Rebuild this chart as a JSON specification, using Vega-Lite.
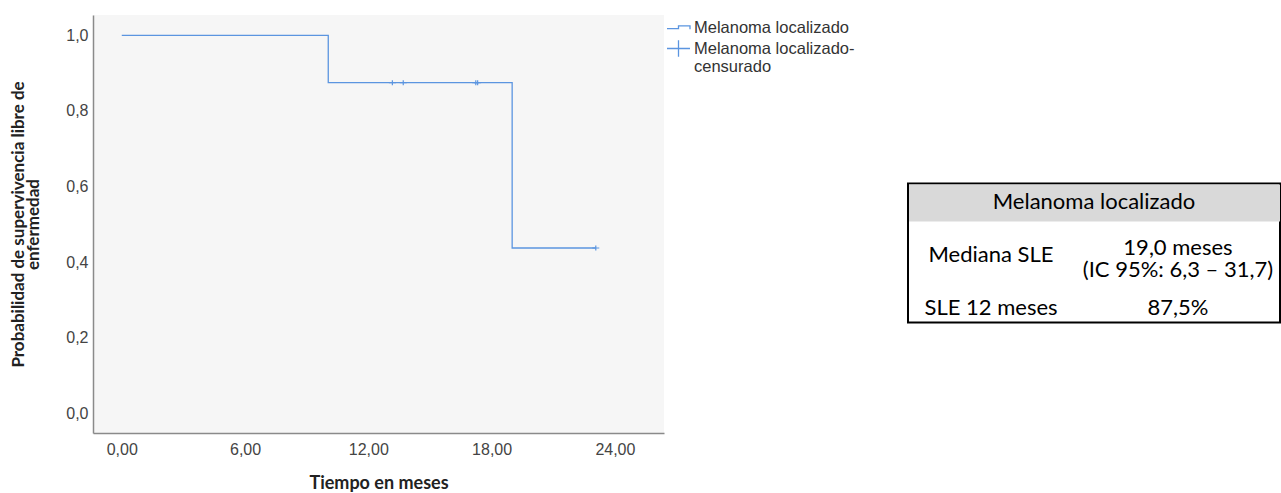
{
  "$schema": "https://vega.github.io/schema/vega-lite/v6.json",
  "background": "white",
  "padding": {"left": 9, "top": 15, "right": 0, "bottom": 0},
  "config": {"view": {"stroke": null}, "font": "Liberation Sans"},
  "datasets": {
    "curva": [
      {"tiempo": 0, "supervivencia": 1.0},
      {"tiempo": 10.05, "supervivencia": 0.875},
      {"tiempo": 19.0, "supervivencia": 0.4375},
      {"tiempo": 23.07, "supervivencia": 0.4375}
    ],
    "censuras": [
      {"tiempo": 13.17, "supervivencia": 0.875, "serie": "Melanoma localizado-censurado"},
      {"tiempo": 13.7, "supervivencia": 0.875, "serie": "Melanoma localizado-censurado"},
      {"tiempo": 17.23, "supervivencia": 0.875, "serie": "Melanoma localizado-censurado"},
      {"tiempo": 17.32, "supervivencia": 0.875, "serie": "Melanoma localizado-censurado"},
      {"tiempo": 23.07, "supervivencia": 0.4375, "serie": "Melanoma localizado-censurado"}
    ],
    "tabla": [
      {"fila": "encabezado", "columna": "titulo", "texto": "Melanoma localizado"},
      {"fila": "mediana", "columna": "etiqueta", "texto": "Mediana SLE"},
      {"fila": "mediana", "columna": "valor", "texto": "19,0 meses\n(IC 95%: 6,3 – 31,7)"},
      {"fila": "sle12", "columna": "etiqueta", "texto": "SLE 12 meses"},
      {"fila": "sle12", "columna": "valor", "texto": "87,5%"}
    ]
  },
  "hconcat": [
    {
      "width": 571,
      "height": 418,
      "view": {"fill": "#f6f6f6", "stroke": null},
      "layer": [
        {
          "data": {"name": "curva"},
          "mark": {"type": "line", "interpolate": "step-after", "color": "#5b95e0", "strokeWidth": 1.3},
          "encoding": {
            "x": {
              "field": "tiempo",
              "type": "quantitative",
              "scale": {"domain": [-1.4, 26.39], "nice": false, "zero": false},
              "axis": {
                "values": [0, 6, 12, 18, 24],
                "labelExpr": "replace(format(datum.value, '.2f'), '.', ',')",
                "ticks": false,
                "grid": false,
                "domainColor": "#8a8a8a",
                "domainWidth": 1.5,
                "labelFont": "Liberation Sans",
                "labelFontSize": 16,
                "labelColor": "#444",
                "labelPadding": 8,
                "titleFont": "Lato",
                "titleFontWeight": "bold",
                "titleFontSize": 18,
                "titleColor": "#222",
                "titlePadding": 17
              },
              "title": "Tiempo en meses"
            },
            "y": {
              "field": "supervivencia",
              "type": "quantitative",
              "scale": {"domain": [-0.052, 1.054], "nice": false, "zero": false},
              "axis": {
                "values": [0, 0.2, 0.4, 0.6, 0.8, 1.0],
                "labelExpr": "replace(format(datum.value, '.1f'), '.', ',')",
                "ticks": false,
                "grid": false,
                "domainColor": "#8a8a8a",
                "domainWidth": 1.5,
                "labelFont": "Liberation Sans",
                "labelFontSize": 16,
                "labelColor": "#444",
                "labelPadding": 5,
                "titleFont": "Lato",
                "titleFontWeight": "bold",
                "titleFontSize": 17,
                "titleLineHeight": 15,
                "titleColor": "#222",
                "titlePadding": 23
              },
              "title": ["Probabilidad de supervivencia libre de", "enfermedad"]
            }
          }
        },
        {
          "data": {"name": "censuras"},
          "mark": {"type": "point", "filled": false, "color": "#5b95e0", "strokeWidth": 1.2, "size": 49, "opacity": 1},
          "encoding": {
            "x": {"field": "tiempo", "type": "quantitative"},
            "y": {"field": "supervivencia", "type": "quantitative"},
            "shape": {
              "field": "serie",
              "type": "nominal",
              "scale": {
                "domain": ["Melanoma localizado", "Melanoma localizado-censurado"],
                "range": ["M-1,0.1H0V-0.15H1V0.15", "M-1,0H1M0,-0.72V0.72"]
              },
              "legend": {
                "title": null,
                "orient": "right",
                "offset": 2,
                "padding": 0,
                "labelFont": "Liberation Sans",
                "labelFontSize": 16.5,
                "labelColor": "#333",
                "labelLimit": 300,
                "labelOffset": 3,
                "rowPadding": -3,
                "symbolStrokeColor": "#5b95e0",
                "symbolFillColor": "transparent",
                "symbolStrokeWidth": 1.3,
                "symbolSize": 529,
                "labelExpr": "datum.label == 'Melanoma localizado-censurado' ? ['Melanoma localizado-', 'censurado'] : datum.label",
                "encode": {
                  "labels": {"update": {"lineHeight": {"value": 16}}},
                  "symbols": {"update": {"size": {"value": 529}}}
                }
              }
            }
          }
        }
      ]
    },
    {
      "width": 372,
      "height": 139,
      "data": {"name": "tabla"},
      "view": {"stroke": "#000", "strokeWidth": 2, "fill": "white"},
      "resolve": {"scale": {"x": "independent"}},
      "layer": [
        {
          "transform": [{"filter": "datum.fila == 'encabezado'"}],
          "mark": {"type": "rect", "color": "#d9d9d9", "height": 37},
          "encoding": {
            "x": {"value": 1},
            "x2": {"value": "width"},
            "y": {"field": "fila", "type": "nominal", "scale": {"type": "point", "padding": 0, "domain": ["encabezado", "mediana", "sle12"], "range": [19.5, 124]}, "axis": null}
          }
        },
        {
          "transform": [{"filter": "datum.fila == 'encabezado'"}],
          "mark": {"type": "text", "font": "Lato", "fontSize": 22, "color": "#000", "dy": -1.5},
          "encoding": {
            "x": {"field": "columna", "type": "nominal", "scale": {"type": "point", "domain": ["titulo"]}, "axis": null},
            "y": {"field": "fila", "type": "nominal", "axis": null},
            "text": {"field": "texto"}
          }
        },
        {
          "transform": [{"filter": "datum.fila != 'encabezado' && indexof(datum.texto, '\\n') < 0"}],
          "mark": {"type": "text", "font": "Lato", "fontSize": 22, "color": "#000"},
          "encoding": {
            "x": {"field": "columna", "type": "nominal", "scale": {"type": "point", "padding": 0, "domain": ["etiqueta", "valor"], "range": [83, 270]}, "axis": null},
            "y": {"field": "fila", "type": "nominal", "axis": null},
            "text": {"field": "texto"}
          }
        },
        {
          "transform": [{"filter": "indexof(datum.texto, '\\n') >= 0"}],
          "mark": {"type": "text", "font": "Lato", "fontSize": 22, "color": "#000", "lineBreak": "\n", "lineHeight": 22, "dy": -7},
          "encoding": {
            "x": {"field": "columna", "type": "nominal", "scale": {"type": "point", "padding": 0, "domain": ["etiqueta", "valor"], "range": [83, 270]}, "axis": null},
            "y": {"field": "fila", "type": "nominal", "axis": null},
            "text": {"field": "texto"}
          }
        }
      ]
    }
  ],
  "resolve": {"legend": {"shape": "independent"}},
  "spacing": 52,
  "center": true
}
